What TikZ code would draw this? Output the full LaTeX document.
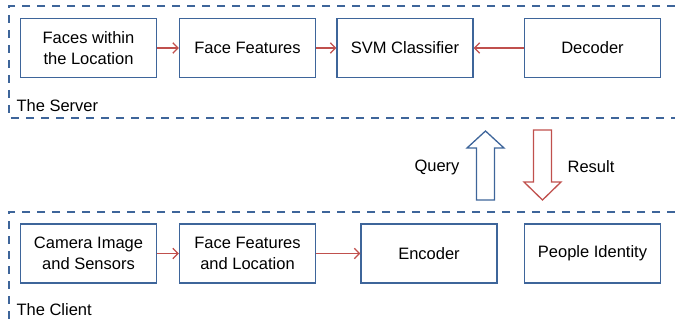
\documentclass[tikz,border=0pt]{standalone}
\usepackage{fontspec}
\setmainfont{Liberation Sans}
\usetikzlibrary{arrows.meta,positioning}

\definecolor{outline}{HTML}{3E659A}
\definecolor{flow}{HTML}{C0504D}

\begin{document}
\begin{tikzpicture}[%
            x=1pt, y=1pt,
            >={Straight Barb[length=5pt,width=10.5pt]},
            font=\fontsize{16.5}{20.5}\selectfont,
            stage/.style={draw=outline, line width=1.5pt, minimum width=136pt,
                minimum height=59pt, align=center, inner sep=2pt},
            flowline/.style={->, draw=flow, line width=1.3pt},
            region/.style={draw=outline, line width=1.3pt, dash pattern=on 8pt off 7pt},
            bigarrow/.style={line width=1.3pt, line join=miter}
            ]
            \useasboundingbox (0,0) rectangle (675,322);

            % server side
            \draw[region] (690,316) -| (9,204) -- (690,204);
            \node[anchor=west] (serverlbl) at (13,216) {The Server};
            \node[stage] (faces) at (88.5,274) {Faces within\\the Location};
            \node[stage, right=21.5pt of faces] (srvfeat) {Face Features};
            \node[stage, right=20pt of srvfeat] (svm) {SVM Classifier};
            \node[stage, right=50pt of svm] (decoder) {Decoder};

            \path[flowline] (faces) edge (srvfeat);
            \path[flowline] (srvfeat) edge (svm);
            \path[flowline] (decoder) edge (svm);

            % query and result
            \coordinate (query) at (485.5,122);
            \coordinate (result) at (542.5,192);
            \draw[bigarrow, draw=outline, shift={(query)}]
                (-9,0) -- (-9,52) -- (-18.5,52) -- (0,69) -- (18.5,52) -- (9,52) -- (9,0) -- cycle;
            \draw[bigarrow, draw=flow, shift={(result)}, yscale=-1]
                (-9,0) -- (-9,52) -- (-18.5,52) -- (0,70) -- (18.5,52) -- (9,52) -- (9,0) -- cycle;
            \node (querylbl) at (437,155) {Query};
            \node (resultlbl) at (591,155) {Result};

            % client side
            \draw[region] (690,110) -| (9,-10);
            \node[anchor=west] (clientlbl) at (13,12) {The Client};
            \node[stage] (camera) at (88.5,68.5) {Camera Image\\and Sensors};
            \node[stage, right=21.5pt of camera] (clifeat) {Face Features\\and Location};
            \node[stage, right=44pt of clifeat] (encoder) {Encoder};
            \node[stage, right=26pt of encoder] (people) {People Identity};

            \path[flowline] (camera) edge (clifeat);
            \path[flowline] (clifeat) edge (encoder);
        \end{tikzpicture}
\end{document}
